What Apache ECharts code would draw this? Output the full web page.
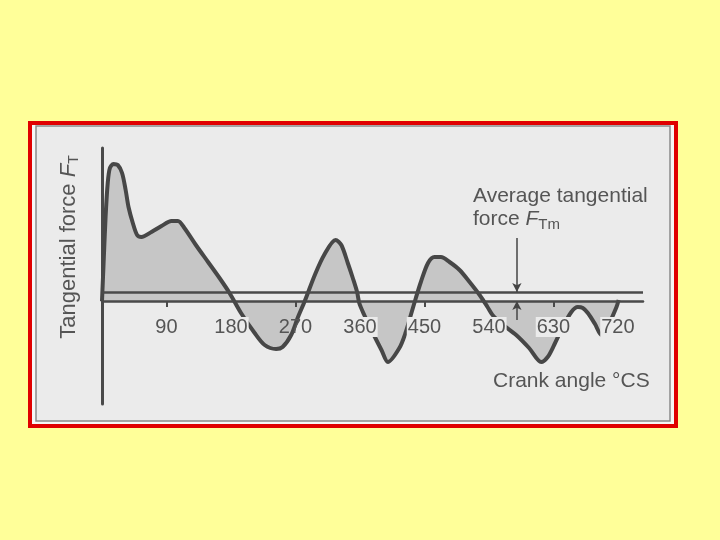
<!DOCTYPE html>
<html>
<head>
<meta charset="utf-8">
<script src="https://cdn.jsdelivr.net/npm/echarts@6/dist/echarts.min.js"></script>
<style>
  html, body { margin: 0; padding: 0; background: #ffff99; }
  #chart { width: 720px; height: 540px; }
</style>
</head>
<body>
<div id="chart"></div>
<script>
// crank angle (deg) and tangential force (arbitrary units)
var crankAngle = [0, 2, 5, 8, 11, 16, 22, 28, 33, 37, 43, 49, 55, 69, 83, 97, 106, 115, 131, 148, 164, 178, 194,
  213, 227, 243, 252, 264, 273, 283, 297, 310, 326, 334, 343, 350, 356, 359, 366, 378, 390, 399,
  415, 424, 431, 438, 445, 455, 464, 473, 485, 499, 513, 527, 538, 545, 560, 578, 596, 613, 622, 631,
  643, 655, 664, 671, 678, 688, 697, 708, 718, 721];
var tangentialForce = [0, 3.4, 8.4, 11.8, 13.3, 13.7, 13.6, 12.8, 11.1, 9.4, 7.8, 6.6, 6.4, 6.9, 7.5, 8.0, 8.0, 7.3, 5.6, 3.9, 2.3, 0.8, -1.2,
  -3.2, -4.4, -4.8, -4.6, -3.4, -1.7, 0, 2.6, 4.6, 6.1, 5.6, 3.8, 2.3, 0.9, -0.2, -1.4, -3.2, -4.9, -6.1,
  -4.7, -3.1, -1.4, 0.3, 1.9, 3.8, 4.4, 4.4, 3.9, 3.1, 1.9, 0.6, -0.6, -1.4, -2.4, -3.4, -4.7, -6.1, -5.6, -4.4,
  -2.6, -1.1, -0.6, -0.7, -1.2, -2.3, -3.4, -2.2, -0.6, 0.1];
var averageForce = 0.9;
var labelAngles = [90, 180, 270, 360, 450, 540, 630, 720];
var tickAngles = [90, 270, 450, 630];
var arrowAngle = 579;
var arrowTop = [6.3, averageForce];
var arrowBottom = [-1.9, 0];

var ink = '#4a4a4a';
var textColor = '#555555';
var font = 'Liberation Sans';

var seriesData = crankAngle.map(function (a, i) { return [a, tangentialForce[i]]; });

var chart = echarts.init(document.getElementById('chart'));
chart.setOption({
  backgroundColor: '#ffff99',
  animation: false,
  graphic: [
    { type: 'rect', z: -20, shape: { x: 30, y: 123, width: 646, height: 303 },
      style: { fill: '#f6f6f6', stroke: '#e00000', lineWidth: 4 } },
    { type: 'rect', z: -19, shape: { x: 36, y: 126, width: 634, height: 295 },
      style: { fill: '#ebebeb', stroke: '#8a8a8a', lineWidth: 1.5 } },
    { type: 'text', z: 10, x: 69, y: 247, rotation: Math.PI / 2,
      style: { text: 'Tangential force {i|F}{sub|T}', align: 'center', verticalAlign: 'middle',
        fill: textColor, font: '22px ' + font,
        rich: { i: { fontStyle: 'italic', fontSize: 22, fill: textColor, fontFamily: font },
                sub: { fontSize: 14, padding: [10, 0, 0, 0], fill: textColor, fontFamily: font } } } },
    { type: 'text', z: 10, x: 473, y: 185,
      style: { text: 'Average tangential\nforce {i|F}{sub|Tm}', fill: textColor, font: '21px ' + font,
        lineHeight: 23,
        rich: { i: { fontStyle: 'italic', fontSize: 21, fill: textColor, fontFamily: font, lineHeight: 23 },
                sub: { fontSize: 15, padding: [10, 0, 0, 0], fill: textColor, fontFamily: font, lineHeight: 23 } } } },
    { type: 'text', z: 10, x: 493, y: 371,
      style: { text: 'Crank angle °CS', fill: textColor, font: '21px ' + font } }
  ],
  grid: [
    { left: 102, right: 77, top: 148, bottom: 136 },
    // the visible angle axis sits on the zero line
    { left: 102, right: 77, top: 148, bottom: 239 }
  ],
  xAxis: [{
    type: 'value', min: 0, max: 755, show: false
  }, {
    type: 'value', gridIndex: 1, min: 0, max: 755, z: 5,
    axisLine: { onZero: false, lineStyle: { color: ink, width: 2.5 } },
    axisTick: { show: true, customValues: tickAngles, length: 6, lineStyle: { color: ink, width: 2 } },
    axisLabel: {
      customValues: labelAngles, margin: 16, fontSize: 20, color: textColor, fontFamily: font,
      formatter: function (v) { return v === 270 || v === 90 ? '{p|' + v + '}' : '{b|' + v + '}'; },
      rich: {
        p: { fontSize: 20, color: textColor, fontFamily: font },
        b: { fontSize: 20, color: textColor, fontFamily: font, backgroundColor: '#ebebeb', padding: [0, 1] }
      }
    },
    splitLine: { show: false }
  }],
  yAxis: [{
    type: 'value', min: -10.3, max: 15.3,
    axisLine: { show: true, onZero: false, lineStyle: { color: ink, width: 3 } },
    axisTick: { show: false }, axisLabel: { show: false }, splitLine: { show: false }
  }, {
    type: 'value', gridIndex: 1, show: false
  }],
  series: [{
    type: 'line',
    data: seriesData,
    smooth: 0.3,
    symbol: 'none',
    lineStyle: { color: '#474747', width: 4 },
    areaStyle: { color: '#c6c6c6', opacity: 1 },
    markLine: {
      silent: true,
      symbol: 'none',
      label: { show: false },
      lineStyle: { color: ink, width: 2.5, type: 'solid' },
      data: [
        { yAxis: averageForce },
        [{ coord: [arrowAngle, arrowTop[0]], symbol: 'none', lineStyle: { width: 1.5, color: '#444' } },
         { coord: [arrowAngle, arrowTop[1]], symbol: 'arrow', symbolSize: [7, 9] }],
        [{ coord: [arrowAngle, arrowBottom[0]], symbol: 'none', lineStyle: { width: 1.5, color: '#444' } },
         { coord: [arrowAngle, arrowBottom[1]], symbol: 'arrow', symbolSize: [7, 9] }]
      ]
    }
  }]
});
</script>
</body>
</html>
